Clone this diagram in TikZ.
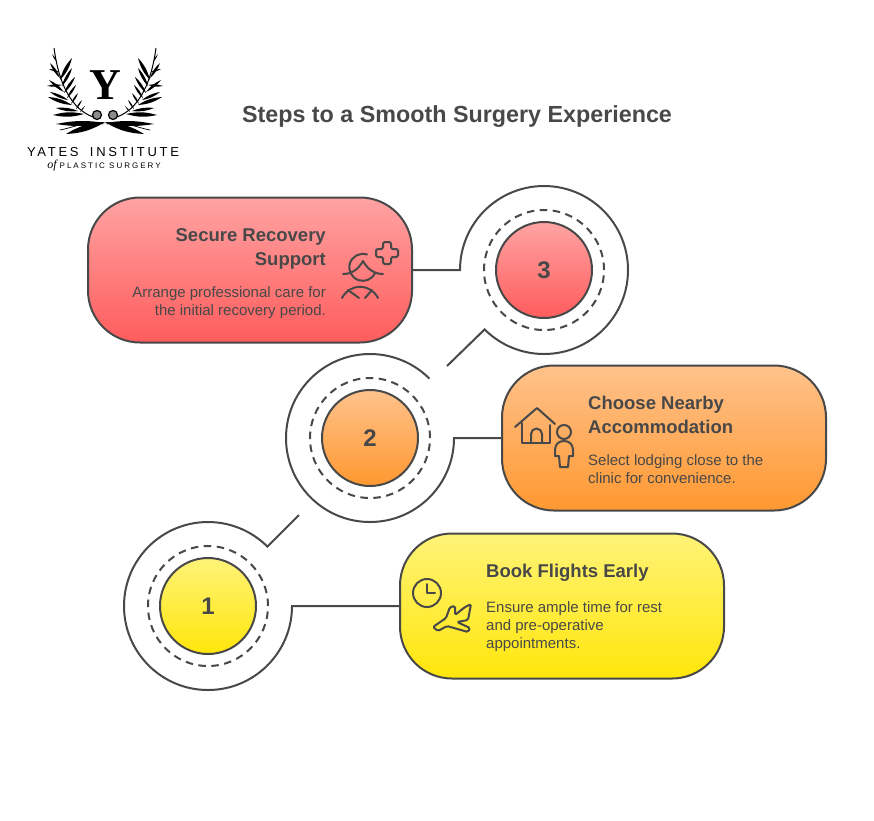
\documentclass[tikz,border=0pt]{standalone}
\usepackage{fontspec}
\setmainfont{Liberation Sans}
\newfontfamily\logoserif{Liberation Serif}
\definecolor{ink}{RGB}{72,72,72}
\definecolor{redtop}{RGB}{255,163,163}
\definecolor{redbot}{RGB}{255,92,92}
\definecolor{orangetop}{RGB}{255,194,140}
\definecolor{orangebot}{RGB}{255,152,48}
\definecolor{yellowtop}{RGB}{255,243,120}
\definecolor{yellowbot}{RGB}{255,230,10}
\tikzset{
  cardbox/.style={draw=ink,line width=2pt,rounded corners=52pt,minimum width=324pt,minimum height=145pt,inner sep=0pt,outer sep=0pt},
  discbox/.style={circle,draw=ink,line width=2pt,minimum size=96pt,inner sep=0pt,outer sep=0pt,text=ink,font=\bfseries\fontsize{24}{28}\selectfont},
  dashring/.style={circle,draw=ink,line width=2pt,dash pattern=on 7.5pt off 5.5pt,minimum size=120pt,inner sep=0pt,outer sep=0pt},
  outerring/.style={circle,minimum size=168pt,inner sep=0pt,outer sep=0pt},
  linkline/.style={draw=ink,line width=2pt},
  iconline/.style={draw=ink,line width=2pt,line cap=round,line join=round},
  headtext/.style={text=ink,inner sep=0pt,font=\bfseries\fontsize{18.5}{24}\selectfont},
  bodytext/.style={text=ink,inner sep=0pt,font=\fontsize{15}{18}\selectfont},
}
\newcommand{\stepdisc}[5]{%
  \node[outerring] (ring#1) at (#2,#3) {};
  \node[dashring] (dash#1) at (#2,#3) {};
  \node[discbox,top color=#4,bottom color=#5] (disc#1) at (#2,#3) {#1};}
\newcommand{\logofrond}{%
  \draw[black,line width=1pt] (96,118) .. controls (76,112) and (60,92) .. (54,48);
  \foreach \ax/\ay/\bx/\by in {84/114/53/115,78/111/56/108,72/105/48/97,68/100/50/92,64/92/49/80,62/85/47/86,
    60/78/50/63,59/72/49/69,57/62/52/54,60/80/72/58,62/86/72/68,64/93/75/77,67/98/76/85,71/104/78/93,76/109/82/100,80/112/85/106}{
    \fill[black] (\ax,\ay) to[bend left=14] (\bx,\by) to[bend left=14] (\ax,\ay);
  }
  \fill[black] (105,123) to[bend left=10] (56,124) to[bend left=10] (105,123);
  \fill[black] (105,122) to[bend left=14] (66,134) to[bend left=14] (105,122);
  \draw[black,line width=.7pt] (103,124) .. controls (88,120) and (72,128) .. (60,130);
  \draw[black,fill=black!45,line width=1.2pt] (97,115) circle[radius=4.5];
}
\begin{document}
\begin{tikzpicture}[x=1pt,y=-1pt]
  \useasboundingbox (0,0) rectangle (874,820);
  % logo
  \logofrond
  \begin{scope}[shift={(210,0)},xscale=-1]
    \logofrond
  \end{scope}
  \node[inner sep=0pt,font=\logoserif\bfseries\fontsize{44}{50}\selectfont] (logoY) at (105,85) {Y};
  \node[inner sep=0pt,font=\fontsize{13}{14}\selectfont] (logoname) at (103,152)
    {\addfontfeatures{LetterSpace=21}YATES\hspace{5pt} INSTITUTE};
  \node[inner sep=0pt,font=\fontsize{8}{9}\selectfont] (logosub) at (104,166)
    {{\logoserif\itshape\fontsize{12}{12}\selectfont of}\hspace{3pt}\addfontfeatures{LetterSpace=25}PLASTIC SURGERY};
  % title
  \node[inner sep=0pt,text=ink,font=\bfseries\fontsize{23.3}{28}\selectfont] (title) at (457,117)
    {Steps to a Smooth Surgery Experience};
  % three cards
  \node[cardbox,top color=redtop,bottom color=redbot] (card3) at (250,270) {};
  \node[cardbox,top color=orangetop,bottom color=orangebot] (card2) at (664,438) {};
  \node[cardbox,top color=yellowtop,bottom color=yellowbot] (card1) at (562,606) {};
  % connectors
  \stepdisc{1}{208}{606}{yellowtop}{yellowbot}
  \stepdisc{2}{370}{438}{orangetop}{orangebot}
  \stepdisc{3}{544}{270}{redtop}{redbot}
  \coordinate (tail1) at (299,515);
  \coordinate (tail3) at (447,366);
  \draw[linkline] (card1.west) -- (ring1.east) arc[start angle=0,end angle=315,radius=84] -- (tail1);
  \draw[linkline] (card2.west) -- (ring2.east) arc[start angle=0,end angle=315,radius=84];
  \draw[linkline] (card3.east) -- (ring3.west) arc[start angle=180,end angle=495,radius=84] -- (tail3);
  % card texts
  \node[headtext,align=right,anchor=north east] (head3) at (326,228) {Secure Recovery\\Support};
  \node[bodytext,align=right,anchor=north east] (body3) at (326,286) {Arrange professional care for\\the initial recovery period.};
  \node[headtext,align=left,anchor=north west] (head2) at (588,396) {Choose Nearby\\Accommodation};
  \node[bodytext,align=left,anchor=north west] (body2) at (588,454) {Select lodging close to the\\clinic for convenience.};
  \node[headtext,align=left,anchor=north west] (head1) at (486,564) {Book Flights Early};
  \node[bodytext,align=left,anchor=north west] (body1) at (486,601) {Ensure ample time for rest\\and pre-operative\\appointments.};
  % icon 3
  \draw[iconline,rounded corners=1.5pt] (383,242) -- (391,242) -- (391,249) -- (398,249) -- (398,257) -- (391,257) -- (391,264) -- (383,264) -- (383,257) -- (376,257) -- (376,249) -- (383,249) -- cycle;
  \draw[iconline] (367,254.5) arc[start angle=-72,end angle=-333,radius=13.5];
  \draw[iconline] (343,274) .. controls (351,274) and (358,270) .. (363,261) .. controls (368,270) and (375,274) .. (383,274);
  \draw[iconline] (342,298) .. controls (350,283) and (370,283) .. (378,298);
  \draw[iconline] (348,290) -- (359,298);
  \draw[iconline] (372,290) -- (365,298);
  % icon 2
  \draw[iconline] (515,427) -- (537,408) -- (555,424);
  \draw[iconline] (522,423) -- (522,443) -- (550,443) -- (550,425);
  \draw[iconline] (531,443) -- (531,434) arc[start angle=180,end angle=360,radius=5.5] -- (542,443);
  \draw[iconline] (564,432) circle[radius=7];
  \draw[iconline] (555,456) -- (555,450) .. controls (555,444) and (559,441) .. (564,441) .. controls (569,441) and (573,444) .. (573,450) -- (573,456) -- (569,456) -- (568,467) -- (560,467) -- (559,456) -- cycle;
  % icon 1
  \draw[iconline] (427,593) circle[radius=14];
  \draw[iconline] (427,584) -- (427,593) -- (435,593);
  \draw[iconline,rounded corners=1.5pt] (433,627) -- (446,618) -- (450,607) -- (455,606) -- (455,615) -- (465,607) -- (471,604) -- (468,620) -- (457,622) -- (470,628) -- (468,632) -- (447,626) -- (438,631) -- cycle;
\end{tikzpicture}
\end{document}
